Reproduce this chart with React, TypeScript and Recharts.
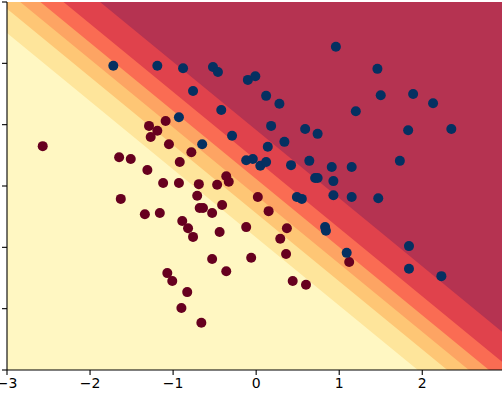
import { ComposedChart, Area, Scatter, XAxis, YAxis, CartesianGrid } from 'recharts'

// logistic model: p = sigmoid(W1*x + W2*y + B)
const COEF_X = 2.495
const COEF_Y = 2.246
const INTERCEPT = 0.148

const LEVELS = [0.15, 0.3, 0.45, 0.6, 0.75, 0.9]
const BAND_COLORS = ['#fff7c2', '#fee59b', '#fec675', '#fda463', '#fa6c53', '#e0424c', '#b53351']
const LINE_X = [-3.5, 0, 3.5]

const X_TICKS = [-3, -2, -1, 0, 1, 2]
const Y_TICKS = [-3, -2, -1, 0, 1, 2, 3]
const X_DOMAIN: [number, number] = [-3, 2.96]
const Y_DOMAIN: [number, number] = [-3, 3]

const class1 = [
  [-1.72, 1.96], [-1.19, 1.96], [-0.88, 1.92], [-0.52, 1.94], [-0.46, 1.86], [-0.10, 1.73],
  [-0.01, 1.79], [-0.76, 1.55], [0.12, 1.47], [0.28, 1.34], [-0.42, 1.24], [-0.93, 1.12],
  [0.18, 0.98], [0.59, 0.93], [0.96, 2.27], [1.46, 1.91], [1.50, 1.48], [1.89, 1.50],
  [2.13, 1.35], [1.20, 1.22], [1.83, 0.91], [2.35, 0.93], [0.74, 0.85], [-0.29, 0.82],
  [-0.65, 0.68], [0.14, 0.64], [0.34, 0.72], [-0.12, 0.42], [-0.04, 0.44], [0.05, 0.33],
  [0.12, 0.39], [0.42, 0.34], [0.64, 0.41], [0.71, 0.13], [0.74, 0.13], [0.93, 0.08],
  [0.91, 0.31], [1.15, 0.31], [1.73, 0.41], [0.93, -0.15], [1.15, -0.18], [1.47, -0.20],
  [0.49, -0.18], [0.55, -0.21], [0.83, -0.67], [0.84, -0.73], [1.09, -1.09], [1.84, -0.98],
  [1.84, -1.35], [2.23, -1.47],
]

const class0 = [
  [-2.57, 0.65], [-1.65, 0.47], [-1.51, 0.44], [-1.31, 0.26], [-1.63, -0.21], [-1.34, -0.46],
  [-1.16, -0.44], [-1.12, 0.05], [-1.29, 0.98], [-1.19, 0.90], [-1.27, 0.80], [-1.09, 1.06],
  [-1.05, 0.68], [-0.78, 0.55], [-0.92, 0.39], [-0.93, 0.05], [-0.69, 0.03], [-0.36, 0.16],
  [-0.33, 0.07], [-0.47, 0.02], [-0.71, -0.16], [-0.68, -0.36], [-0.64, -0.36], [-0.41, -0.31],
  [-0.53, -0.44], [-0.89, -0.57], [-0.82, -0.69], [-0.76, -0.83], [-0.44, -0.75], [-0.12, -0.67],
  [0.02, -0.18], [0.15, -0.41], [0.29, -0.86], [0.37, -0.69], [-0.53, -1.19], [-0.36, -1.39],
  [-0.06, -1.17], [0.36, -1.11], [0.44, -1.55], [0.60, -1.61], [-1.07, -1.42], [-1.01, -1.55],
  [-0.83, -1.73], [-0.90, -1.99], [-0.66, -2.23], [1.12, -1.24],
]

// boundary line of each probability level, y as a function of x
const bandData = LINE_X.map((x) => {
  const row: Record<string, number> = { x }
  LEVELS.forEach((p, i) => {
    const logit = Math.log(p / (1 - p))
    row[`l${i}`] = (logit - INTERCEPT - COEF_X * x) / COEF_Y
  })
  return row
})

const pts0 = class0.map(([x, y]) => ({ x, y }))
const pts1 = class1.map(([x, y]) => ({ x, y }))

const fmt = (v: number) => (v < 0 ? `\u2212${Math.abs(v)}` : `${v}`)

const dot = (color: string) => (props: any) => (
  <circle cx={props.cx} cy={props.cy} r={5} fill={color} />
)

const AXIS_FONT = { fill: '#000', fontSize: 14, fontFamily: 'DejaVu Sans' }

export default function App() {
  return (
    <div style={{ position: 'absolute', left: 0, top: 0, width: 504, height: 394, background: '#fff' }}>
      <ComposedChart
        width={504}
        height={394}
        data={bandData}
        margin={{ top: 2, right: 2, left: 0, bottom: 0 }}
      >
        <CartesianGrid horizontal={false} vertical={false} fill={BAND_COLORS[0]} fillOpacity={1} />
        <XAxis
          dataKey="x"
          type="number"
          domain={X_DOMAIN}
          ticks={X_TICKS}
          interval={0}
          allowDataOverflow
          tickFormatter={fmt}
          tick={AXIS_FONT}
          tickSize={5}
          tickMargin={3}
          height={24}
          stroke="#000"
          strokeWidth={1.1}
        />
        <YAxis
          type="number"
          domain={Y_DOMAIN}
          ticks={Y_TICKS}
          interval={0}
          allowDataOverflow
          tickFormatter={() => ''}
          tickSize={5}
          width={7}
          stroke="#000"
          strokeWidth={1.1}
        />
        <XAxis
          xAxisId="top"
          orientation="top"
          type="number"
          domain={X_DOMAIN}
          height={0}
          tick={false}
          tickLine={false}
          stroke="#000"
          strokeWidth={1.1}
        />
        <YAxis
          yAxisId="right"
          orientation="right"
          type="number"
          domain={Y_DOMAIN}
          width={0}
          tick={false}
          tickLine={false}
          stroke="#000"
          strokeWidth={1.1}
        />
        {LEVELS.map((p, i) => (
          <Area
            key={p}
            dataKey={`l${i}`}
            type="linear"
            baseValue={Y_DOMAIN[1]}
            stroke="none"
            fill={BAND_COLORS[i + 1]}
            fillOpacity={1}
            dot={false}
            activeDot={false}
            isAnimationActive={false}
          />
        ))}
        <Scatter data={pts0} dataKey="y" shape={dot('#67001f')} isAnimationActive={false} />
        <Scatter data={pts1} dataKey="y" shape={dot('#053061')} isAnimationActive={false} />
      </ComposedChart>
    </div>
  )
}
